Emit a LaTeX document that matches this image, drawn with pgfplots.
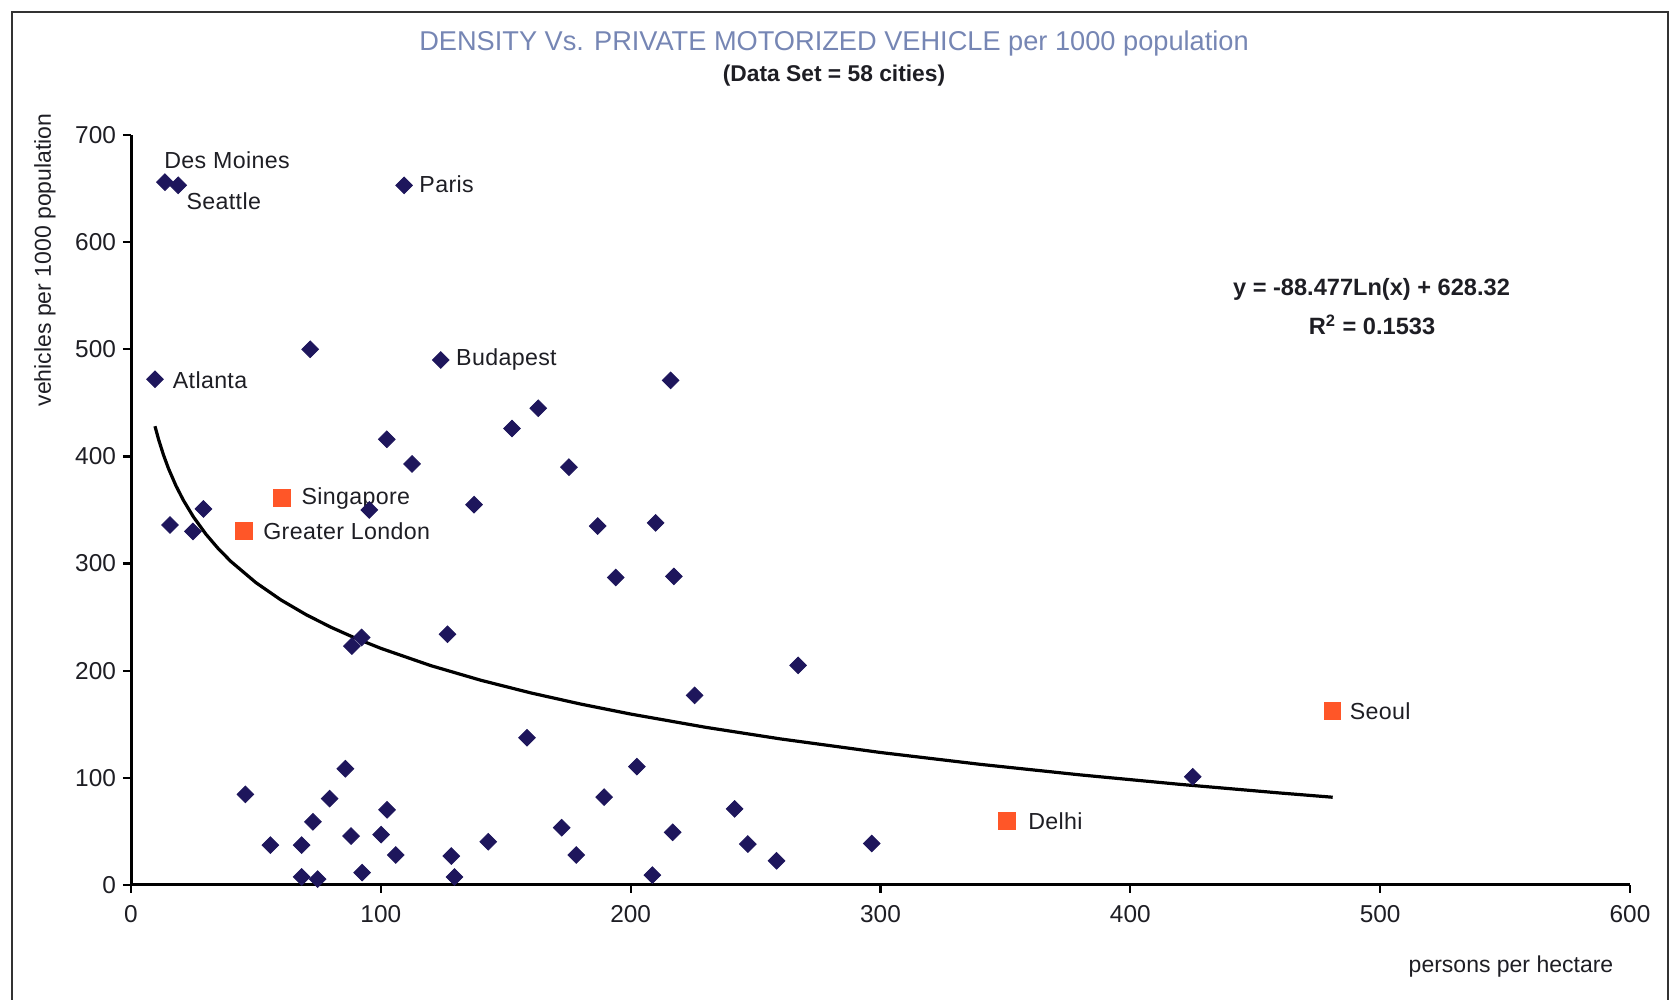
\documentclass[border=0pt]{standalone}
\usepackage{fontspec}
\setmainfont{Liberation Sans}
\newfontfamily\labelfamily[LetterSpace=1.5]{Liberation Sans}
\usepackage{pgfplots}
\pgfplotsset{compat=1.18}

\definecolor{navy}{RGB}{30,22,92}
\definecolor{citymark}{RGB}{255,86,40}
\definecolor{titleblue}{RGB}{118,134,180}
\definecolor{txt}{RGB}{30,30,36}

\pgfplotstableread{
x y
13.6 656
18.9 653
109.3 653
9.6 472
71.7 500
124.0 490
216.0 471
163.0 445
152.5 426
102.4 416
112.5 393
175.3 390
137.3 355
29.0 351
95.4 350
15.6 336
24.8 330
186.8 335
210.0 338
194.0 287
217.3 288
126.7 234
92.3 231
88.4 223
267.0 205
225.6 177
158.5 137.5
85.8 108.5
202.5 110.5
45.8 84.6
79.5 80.6
189.4 82
241.6 71
102.5 70.2
72.8 59
172.4 53.5
216.8 49.2
88.1 45.7
100.1 47
55.8 37.2
68.3 37.2
143.0 40.4
246.9 38.2
296.5 38.8
106.0 28
128.2 27
178.2 28
258.4 22.6
92.5 11.6
68.3 7.5
74.7 5.5
129.5 7.5
208.7 9.2
425.0 101
}\cities

\pgfplotstableread{
x y
60.5 361
45.2 330.5
480.9 162.4
350.6 59.7
}\highlighted

\tikzset{city/.style={anchor=west, inner sep=0pt, text=txt,
  font=\labelfamily\fontsize{11.6}{14}\selectfont}}

\begin{document}
\begin{tikzpicture}[x=1pt,y=1pt]
\path[use as bounding box] (0,0) rectangle (835.5,500);
% chart area frame
\draw[line width=1.1pt, black!80] (6,-10) -- (6,494) -- (834,494) -- (834,-10);

\node[font=\fontsize{13.6}{16}\selectfont, text=titleblue] at (417,478.5)
  {DENSITY Vs. PRIVATE MOTORIZED VEHICLE per 1000 population};
\node[font=\bfseries\fontsize{11.4}{13}\selectfont, text=txt] at (417,462)
  {(Data Set = 58 cities)};

\node[font=\bfseries\fontsize{11.8}{13}\selectfont, text=txt] at (685.75,355.5)
  {y = -88.477Ln(x) + 628.32};
\node[font=\bfseries\fontsize{11.8}{13}\selectfont, text=txt] at (686,337.5)
  {R\textsuperscript{2} = 0.1533};

\node[rotate=90, font=\fontsize{11.5}{13}\selectfont, text=txt] at (22.5,370)
  {vehicles per 1000 population};
\node[font=\fontsize{11.5}{13}\selectfont, text=txt] at (755.5,16.5)
  {persons per hectare};

\begin{axis}[
  at={(65.5pt,57.5pt)}, anchor=south west,
  scale only axis, width=749.5pt, height=375pt,
  xmin=0, xmax=600, ymin=0, ymax=700,
  axis x line=bottom, axis y line=left,
  axis line style={line width=1.5pt, -},
  xtick={0,100,...,600}, ytick={0,100,...,700},
  tick align=outside, major tick length=4pt,
  tick style={line width=1.1pt, black},
  ticklabel style={font=\fontsize{12.2}{14}\selectfont, text=txt},
  xticklabel style={yshift=-2.5pt},
  /pgf/number format/assume math mode=true,
  clip=false,
]
% logarithmic trend line y = -88.477 ln(x) + 628.32
\addplot[black, line width=1.6pt, no marks] coordinates {
(9.6,428.21) (11,416.16) (13,401.38) (15,388.72) (18,372.59) (21,358.95)
(25,343.52) (30,327.39) (35,313.75) (40,301.94) (50,282.20) (60,266.07)
(70,252.43) (80,240.61) (90,230.19) (100,220.87) (120,204.74) (140,191.10)
(160,179.29) (180,168.86) (200,159.54) (230,147.18) (260,136.33) (300,123.67)
(340,112.59) (380,102.75) (420,93.90) (460,85.85) (481,81.90)
};
\addplot[only marks, mark=square*, mark size=2.95pt,
  mark options={rotate=45, fill=navy, draw=navy}] table {\cities};
\addplot[only marks, mark=square*, mark size=4.2pt,
  mark options={fill=citymark, draw=citymark}] table {\highlighted};

\node[city, xshift=-0.5pt, yshift=11pt] at (axis cs:13.6,656) {Des Moines};
\node[city, xshift=4pt, yshift=-8pt] at (axis cs:18.9,653) {Seattle};
\node[city, xshift=7.5pt, yshift=0.5pt] at (axis cs:109.3,653) {Paris};
\node[city, xshift=8.75pt, yshift=-0.6pt] at (axis cs:9.6,472) {Atlanta};
\node[city, xshift=7.5pt] at (axis cs:124,490) {Budapest};
\node[city, xshift=9.5pt] at (axis cs:60.5,361) {Singapore};
\node[city, xshift=9.5pt] at (axis cs:45.2,330.5) {Greater London};
\node[city, xshift=8.5pt] at (axis cs:480.9,162.4) {Seoul};
\node[city, xshift=10.5pt] at (axis cs:350.6,59.7) {Delhi};
\end{axis}
\end{tikzpicture}
\end{document}
